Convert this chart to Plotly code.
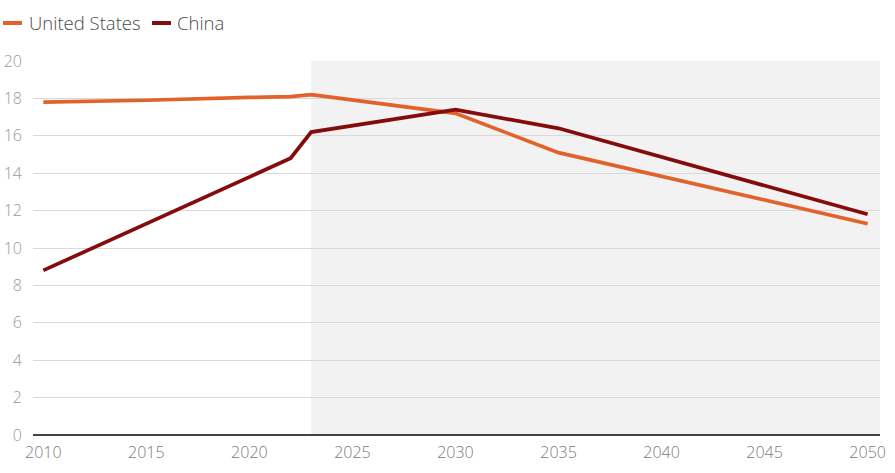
import plotly.graph_objects as go

us_years = [2010, 2015, 2020, 2022, 2023, 2030, 2035, 2050]
us_values = [17.8, 17.9, 18.05, 18.1, 18.2, 17.2, 15.1, 11.3]
cn_years = [2010, 2022, 2023, 2030, 2035, 2050]
cn_values = [8.8, 14.8, 16.2, 17.4, 16.4, 11.8]
x_ticks = [2010, 2015, 2020, 2025, 2030, 2035, 2040, 2045, 2050]
y_ticks = [0, 2, 4, 6, 8, 10, 12, 14, 16, 18, 20]
forecast_start = 2023

US_COLOR = "#E2622B"
CN_COLOR = "#850C0C"

W, H = 895, 473
ML, MR, MT, MB = 33, 15, 0, 38
PW = W - ML - MR
PH = H - MT - MB


def px(x):
    return (x - ML) / PW


def py(y):
    return (H - MB - y) / PH


fig = go.Figure()
fig.add_trace(go.Scatter(x=us_years, y=us_values, mode="lines", name="United States",
                         line=dict(color=US_COLOR, width=3.7)))
fig.add_trace(go.Scatter(x=cn_years, y=cn_values, mode="lines", name="China",
                         line=dict(color=CN_COLOR, width=3.7)))

fig.add_vrect(x0=forecast_start, x1=2050.6, fillcolor="#F2F2F2", line_width=0, layer="below")

# legend drawn manually (short line swatches as in the reference)
legend_items = [("United States", US_COLOR, 3, 22, 27), ("China", CN_COLOR, 152, 171, 175)]
for name, color, x0, x1, xt in legend_items:
    fig.add_shape(type="line", xref="paper", yref="paper", x0=px(x0), x1=px(x1),
                  y0=py(23), y1=py(23), line=dict(color=color, width=4))
    fig.add_annotation(text=name, xref="paper", yref="paper", x=px(xt), y=py(23),
                       xanchor="left", yanchor="middle", showarrow=False,
                       font=dict(size=18.5, color="#4a4a4a", weight=300))

fig.update_layout(
    width=W, height=H,
    margin=dict(l=ML, r=MR, t=MT, b=MB, autoexpand=False),
    paper_bgcolor="white", plot_bgcolor="white",
    font=dict(family="Open Sans", color="#8a8a8a", size=16),
    showlegend=False,
    hovermode=False,
)
fig.update_xaxes(range=[2009.5, 2050.6], tickvals=x_ticks, showgrid=False, automargin=False,
                 zeroline=False, showline=False, ticks="", ticklabelstandoff=6,
                 tickfont=dict(size=16, color="#7a7a7a", weight=300))
fig.update_yaxes(range=[0, 20], tickvals=y_ticks, showgrid=True, gridcolor="#D9D9D9",
                 domain=[0, 374 / PH], automargin=False,
                 gridwidth=1, zeroline=True, zerolinecolor="#444444", zerolinewidth=2,
                 ticks="", ticklabelstandoff=10, tickfont=dict(size=16, color="#999999", weight=300))

fig.write_html("out.html", config={"displayModeBar": False},
               post_script="document.body.style.margin='0';")
